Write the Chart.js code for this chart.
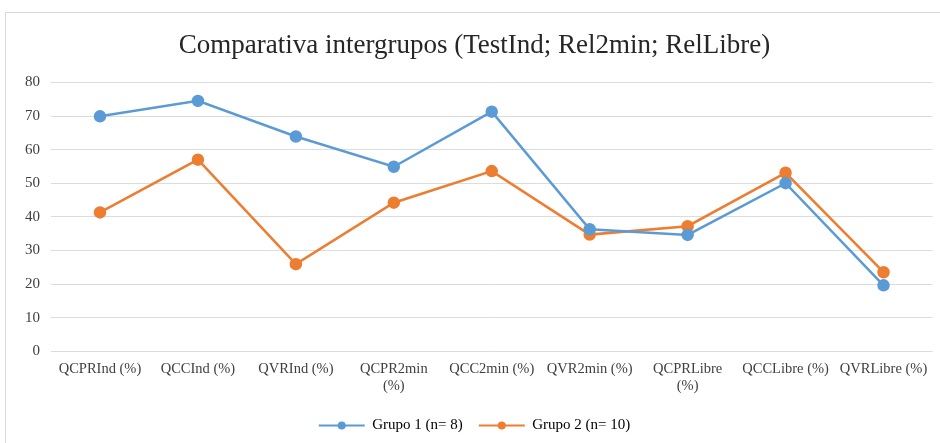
<!DOCTYPE html>
<html>
<head>
<meta charset="utf-8">
<script src="https://cdn.jsdelivr.net/npm/chart.js@4/dist/chart.umd.min.js"></script>
<style>
  html, body { margin: 0; padding: 0; background: #fff; }
  #frame { position: absolute; left: 5px; top: 12px; width: 940px; height: 440px; border: 1px solid #d9d9d9; box-sizing: border-box; }
  #wrap { position: absolute; left: 0; top: 0; width: 940px; height: 443px; }
</style>
</head>
<body>
<div id="frame"></div>
<div id="wrap"><canvas id="chart" width="940" height="443"></canvas></div>
<script>
const categories = [
  'QCPRInd (%)', 'QCCInd (%)', 'QVRInd (%)', ['QCPR2min', '(%)'], 'QCC2min (%)',
  'QVR2min (%)', ['QCPRLibre', '(%)'], 'QCCLibre (%)', 'QVRLibre (%)'
];
const grupo1 = [69.9, 74.5, 63.9, 54.9, 71.3, 36.3, 34.6, 50.0, 19.6];
const grupo2 = [41.3, 57.0, 25.9, 44.2, 53.6, 34.7, 37.2, 53.1, 23.5];
const yTicks = [0, 10, 20, 30, 40, 50, 60, 70, 80];

const blue = '#5B9BD5';
const orange = '#ED7D31';
const serif = "'Liberation Serif', 'Times New Roman', serif";

// draw a dot in the middle of each legend line marker
const legendDots = {
  id: 'legendDots',
  afterDraw(chart) {
    const legend = chart.legend;
    if (!legend || !legend.legendHitBoxes) return;
    const ctx = chart.ctx;
    const boxW = legend.options.labels.boxWidth;
    legend.legendHitBoxes.forEach((box, i) => {
      const ds = chart.data.datasets[i];
      ctx.save();
      ctx.fillStyle = ds.borderColor;
      ctx.beginPath();
      ctx.arc(box.left + boxW / 2, box.top + box.height / 2, 4, 0, Math.PI * 2);
      ctx.fill();
      ctx.restore();
    });
  }
};

new Chart(document.getElementById('chart'), {
  type: 'line',
  data: {
    labels: categories,
    datasets: [
      {
        label: 'Grupo 1 (n= 8)',
        data: grupo1,
        borderColor: blue,
        backgroundColor: blue,
        borderWidth: 2.5,
        pointRadius: 5,
        pointHoverRadius: 5,
        tension: 0
      },
      {
        label: 'Grupo 2 (n= 10)',
        data: grupo2,
        borderColor: orange,
        backgroundColor: orange,
        borderWidth: 2.5,
        pointRadius: 5,
        pointHoverRadius: 5,
        tension: 0
      }
    ]
  },
  options: {
    responsive: false,
    animation: false,
    layout: { padding: { left: 14, right: 5, top: 30, bottom: 0 } },
    plugins: {
      title: {
        display: true,
        text: 'Comparativa intergrupos (TestInd; Rel2min; RelLibre)',
        color: '#262626',
        font: { family: serif, size: 27, weight: 'normal' },
        padding: { top: 0, bottom: 20 }
      },
      legend: {
        position: 'bottom',
        labels: {
          color: '#404040',
          font: { family: serif, size: 15 },
          boxWidth: 46,
          boxHeight: 2,
          padding: 16,
          generateLabels(chart) {
            return chart.data.datasets.map((ds, i) => ({
              text: ds.label,
              fillStyle: ds.borderColor,
              strokeStyle: ds.borderColor,
              lineWidth: 0,
              datasetIndex: i
            }));
          }
        }
      },
      tooltip: { enabled: false }
    },
    scales: {
      x: {
        offset: true,
        grid: { display: false },
        border: { display: false },
        afterFit(axis) { axis.height += 6; },
        ticks: {
          color: '#404040',
          font: { family: serif, size: 14.5 },
          maxRotation: 0,
          autoSkip: false,
          padding: 1
        }
      },
      y: {
        min: 0,
        max: 80,
        afterBuildTicks(axis) { axis.ticks = yTicks.map(v => ({ value: v })); },
        grid: { color: '#dcdcdc', lineWidth: 1, drawTicks: false },
        border: { display: false },
        ticks: {
          color: '#404040',
          font: { family: serif, size: 15 },
          padding: 11
        }
      }
    }
  },
  plugins: [legendDots]
});
</script>
</body>
</html>
